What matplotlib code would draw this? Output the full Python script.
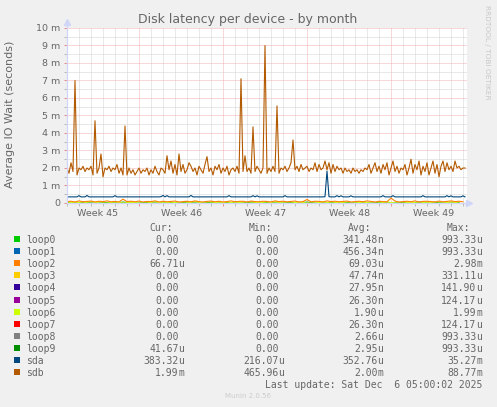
import matplotlib

matplotlib.use("Agg")
import matplotlib.pyplot as plt
import matplotlib.transforms as mtransforms
import numpy as np
from matplotlib.patches import Rectangle
from matplotlib.ticker import FixedLocator, MultipleLocator

# time axis: days since graph start (400 px, 12 px per day)
DAYS_SHOWN = 400 / 12
WEEK_LINES = [6, 13, 20, 27]
WEEK_LABEL_POS = [2.58, 9.58, 16.58, 23.58, 30.58]
WEEK_LABELS = ["Week 45", "Week 46", "Week 47", "Week 48", "Week 49"]
Y_TICKS = [0, 1, 2, 3, 4, 5, 6, 7, 8, 9, 10]
Y_TICK_LABELS = ["0", "1 m", "2 m", "3 m", "4 m", "5 m", "6 m", "7 m", "8 m", "9 m", "10 m"]

# series values in milliseconds, sampled every 4 hours
sdb = [
    2.0, 1.7, 2.3, 1.8, 7.0, 1.6, 2.0, 1.9, 2.1, 1.8,
    2.0, 1.9, 2.1, 1.6, 4.7, 1.7, 2.0, 2.8, 1.5, 2.0,
    1.9, 2.1, 1.8, 2.0, 1.9, 2.2, 1.7, 2.0, 1.6, 4.4,
    1.6, 2.0, 1.7, 1.9, 1.6, 1.8, 2.0, 1.7, 1.9, 1.8,
    2.0, 1.6, 1.9, 1.7, 2.1, 1.8, 1.6, 2.0, 1.9, 1.7,
    2.7, 1.9, 2.4, 1.7, 2.2, 1.6, 2.8, 1.8, 2.2, 1.7,
    1.9, 2.3, 2.1, 1.8, 2.0, 1.6, 2.1, 1.9, 1.7, 2.2,
    2.65, 1.8, 2.0, 1.6, 2.1, 1.9, 2.2, 1.7, 2.0, 1.8,
    2.1, 1.6, 1.9, 2.0, 1.8, 2.1, 1.7, 7.1, 1.8, 2.7,
    1.8, 2.0, 1.7, 4.35, 1.8, 2.1, 1.9, 1.7, 2.0, 9.0,
    1.7, 2.0, 1.8, 2.1, 1.8, 5.55, 1.7, 2.0, 1.9, 2.1,
    1.8, 2.0, 2.3, 3.6, 1.9, 2.1, 1.8, 2.2, 1.9, 2.0,
    2.1, 1.8, 2.0, 1.9, 2.3, 1.8, 2.2, 1.9, 2.0, 2.4,
    1.9, 2.3, 1.7, 2.2, 1.8, 2.1, 1.9, 2.0, 1.7, 2.0,
    1.8, 1.9, 1.7, 2.0, 1.8, 1.9, 1.7, 1.9, 1.8, 2.0,
    1.9, 2.2, 1.7, 2.0, 2.3, 1.8, 2.1, 1.7, 2.2, 1.9,
    2.3, 1.6, 2.0, 2.4, 1.8, 2.1, 1.7, 2.0, 1.9, 2.2,
    1.6, 2.0, 2.5, 1.7, 2.2, 1.9, 2.4, 1.6, 2.1, 1.8,
    2.3, 1.6, 2.0, 2.4, 1.7, 2.2, 1.5, 2.1, 2.4, 1.8,
    2.3, 1.9, 2.1, 1.8, 2.4, 2.0, 2.1, 1.9, 2.0, 2.0,
]
sda = [
    0.35, 0.35, 0.35, 0.35, 0.35, 0.35, 0.42, 0.35, 0.35, 0.35, 0.43, 0.35, 0.35, 0.35, 0.35, 0.35, 0.35, 0.35, 0.35, 0.35,
    0.35, 0.35, 0.35, 0.35, 0.42, 0.35, 0.35, 0.35, 0.35, 0.35, 0.35, 0.35, 0.35, 0.35, 0.35, 0.35, 0.35, 0.35, 0.35, 0.35,
    0.35, 0.35, 0.35, 0.35, 0.35, 0.35, 0.35, 0.36, 0.43, 0.35, 0.42, 0.35, 0.35, 0.35, 0.35, 0.35, 0.35, 0.35, 0.35, 0.35,
    0.35, 0.35, 0.43, 0.35, 0.35, 0.35, 0.35, 0.35, 0.35, 0.35, 0.35, 0.35, 0.35, 0.35, 0.35, 0.35, 0.35, 0.35, 0.35, 0.35,
    0.35, 0.42, 0.35, 0.35, 0.35, 0.35, 0.35, 0.35, 0.35, 0.35, 0.35, 0.35, 0.35, 0.42, 0.35, 0.41, 0.35, 0.35, 0.35, 0.35,
    0.35, 0.35, 0.35, 0.35, 0.35, 0.35, 0.35, 0.35, 0.35, 0.42, 0.35, 0.35, 0.35, 0.35, 0.35, 0.35, 0.35, 0.35, 0.35, 0.35,
    0.35, 0.35, 0.35, 0.35, 0.35, 0.35, 0.35, 0.35, 0.35, 0.36, 1.83, 0.36, 0.35, 0.35, 0.35, 0.42, 0.35, 0.41, 0.35, 0.35,
    0.35, 0.35, 0.41, 0.35, 0.35, 0.35, 0.35, 0.35, 0.35, 0.35, 0.35, 0.35, 0.35, 0.35, 0.35, 0.35, 0.35, 0.35, 0.42, 0.35,
    0.35, 0.35, 0.35, 0.42, 0.35, 0.35, 0.35, 0.35, 0.35, 0.35, 0.35, 0.35, 0.35, 0.35, 0.35, 0.35, 0.35, 0.35, 0.42, 0.35,
    0.35, 0.35, 0.35, 0.35, 0.35, 0.35, 0.35, 0.35, 0.35, 0.35, 0.42, 0.35, 0.41, 0.35, 0.35, 0.35, 0.35, 0.35, 0.41, 0.35,
]
# sampled every 8 hours
loop2 = [
    0.08, 0.10, 0.06, 0.12, 0.07, 0.09, 0.11, 0.06, 0.10, 0.08,
    0.12, 0.07, 0.09, 0.06, 0.22, 0.08, 0.10, 0.07, 0.11, 0.06,
    0.09, 0.08, 0.12, 0.06, 0.10, 0.07, 0.09, 0.11, 0.06, 0.08,
    0.10, 0.07, 0.12, 0.08, 0.06, 0.09, 0.11, 0.07, 0.10, 0.06,
    0.08, 0.12, 0.07, 0.09, 0.10, 0.06, 0.11, 0.08, 0.07, 0.10,
    0.09, 0.06, 0.12, 0.08, 0.10, 0.07, 0.09, 0.11, 0.06, 0.08,
    0.20, 0.07, 0.10, 0.09, 0.06, 0.12, 0.08, 0.10, 0.07, 0.09,
    0.11, 0.06, 0.08, 0.10, 0.07, 0.12, 0.09, 0.06, 0.10, 0.08,
    0.07, 0.28, 0.11, 0.06, 0.08, 0.10, 0.07, 0.12, 0.06, 0.09,
    0.10, 0.08, 0.06, 0.11, 0.07, 0.09, 0.12, 0.08, 0.10, 0.07,
]
# sampled every 16 hours
loop6 = [0.0, 0.05, 0.0, 0.08, 0.0, 0.0, 0.06, 0.0, 0.04, 0.0, 0.0, 0.07, 0.0, 0.05, 0.0, 0.0, 0.08, 0.0, 0.0, 0.05,
         0.0, 0.06, 0.0, 0.0, 0.04, 0.0, 0.07, 0.0, 0.0, 0.05, 0.0, 0.0, 0.06, 0.0, 0.04, 0.0, 0.0, 0.05, 0.0, 0.0,
         0.06, 0.0, 0.0, 0.04, 0.0, 0.05, 0.0, 0.0, 0.06, 0.0]
loop9 = [0.02, 0.0, 0.04, 0.0, 0.0, 0.03, 0.0, 0.05, 0.0, 0.0, 0.04, 0.0, 0.0, 0.03, 0.0, 0.05, 0.0, 0.0, 0.04, 0.0,
         0.03, 0.0, 0.0, 0.05, 0.0, 0.04, 0.0, 0.0, 0.03, 0.0, 0.05, 0.0, 0.0, 0.04, 0.0, 0.03, 0.0, 0.05, 0.0, 0.04,
         0.0, 0.0, 0.03, 0.0, 0.05, 0.0, 0.04, 0.0, 0.0, 0.03]

# legend table
names = ["loop0", "loop1", "loop2", "loop3", "loop4", "loop5", "loop6", "loop7", "loop8", "loop9", "sda", "sdb"]
colors = ["#00CC00", "#0066B3", "#FF8000", "#FFCC00", "#330099", "#990099",
          "#CCFF00", "#FF0000", "#808080", "#008F00", "#00487D", "#B35A00"]
cur_vals = ["0.00", "0.00", "66.71u", "0.00", "0.00", "0.00", "0.00", "0.00", "0.00", "41.67u", "383.32u", "1.99m"]
min_vals = ["0.00", "0.00", "0.00", "0.00", "0.00", "0.00", "0.00", "0.00", "0.00", "0.00", "216.07u", "465.96u"]
avg_vals = ["341.48n", "456.34n", "69.03u", "47.74n", "27.95n", "26.30n", "1.90u", "26.30n", "2.66u", "2.95u",
            "352.76u", "2.00m"]
max_vals = ["993.33u", "993.33u", "2.98m", "331.11u", "141.90u", "124.17u", "1.99m", "124.17u", "993.33u",
            "993.33u", "35.27m", "88.77m"]

FONT_COLOR = "#666666"
AXIS_COLOR = "#CFD6F8"
GRID_COLOR = "#D2D2D2"
MGRID_COLOR = "#F0B0B0"

fig = plt.figure(figsize=(4.97, 4.07), dpi=100, facecolor="#F0F0F0")

# full-figure overlay in pixel coordinates for the text parts
bg = fig.add_axes([0, 0, 1, 1], zorder=0)
bg.set_xlim(0, 497)
bg.set_ylim(407, 0)
bg.axis("off")

ax = fig.add_axes([67 / 497, (407 - 203) / 407, 400 / 497, 175 / 407], zorder=1)
ax.set_facecolor("white")
ax.set_xlim(0, DAYS_SHOWN)
ax.set_ylim(0, 10)
for side in ["top", "right", "left", "bottom"]:
    ax.spines[side].set_visible(False)

ax.xaxis.set_major_locator(FixedLocator(WEEK_LINES))
ax.xaxis.set_minor_locator(MultipleLocator(1))
ax.yaxis.set_major_locator(FixedLocator(Y_TICKS))
ax.yaxis.set_minor_locator(MultipleLocator(0.5))
ax.set_xticklabels([])
ax.set_yticklabels(Y_TICK_LABELS, fontsize=6.8, color=FONT_COLOR)
ax.tick_params(axis="both", which="major", length=2.5, width=0.72, color="#E89090", pad=2.5)
ax.tick_params(axis="both", which="minor", length=2, width=0.72, color="#BBBBBB")
ax.grid(which="minor", color=GRID_COLOR, linestyle=(0, (1, 1)), linewidth=0.72)
ax.grid(which="major", color=MGRID_COLOR, linestyle=(0, (1, 1)), linewidth=0.72)
ax.set_axisbelow(True)

label_tf = mtransforms.blended_transform_factory(ax.transData, ax.transAxes)
for pos, label in zip(WEEK_LABEL_POS, WEEK_LABELS):
    ax.text(pos, -13.5 / 175, label, transform=label_tf, ha="center", va="baseline",
            fontsize=6.8, color=FONT_COLOR)

# data lines, drawn in rrdtool order so sdb ends on top
ax.plot(np.arange(len(loop9)) * 2 / 3, loop9, color=colors[9], lw=0.8)
ax.plot(np.arange(len(loop6)) * 2 / 3, loop6, color=colors[6], lw=0.8)
ax.plot(np.arange(len(loop2)) / 3, loop2, color=colors[2], lw=0.8)
ax.plot(np.arange(len(sda)) / 6, sda, color=colors[10], lw=0.8)
ax.plot(np.arange(len(sdb)) / 6, sdb, color=colors[11], lw=0.8)

# axis lines with rrdtool style arrows
ax.plot([0, 0], [0, 10.3], color=AXIS_COLOR, lw=0.9, clip_on=False, zorder=5)
ax.plot([0, DAYS_SHOWN + 0.1], [0, 0], color=AXIS_COLOR, lw=0.9, clip_on=False, zorder=5)
ax.plot([0], [10.35], marker="^", ms=4, color=AXIS_COLOR, clip_on=False, zorder=5)
ax.plot([DAYS_SHOWN + 0.2], [0], marker=">", ms=4, color=AXIS_COLOR, clip_on=False, zorder=5)

# title and axis label
bg.text(247.5, 20, "Disk latency per device - by month", ha="center", va="center",
        fontsize=9, color=FONT_COLOR)
bg.text(10, 114, "Average IO Wait (seconds)", ha="center", va="center", rotation=90,
        fontsize=8, color=FONT_COLOR)
bg.text(487, 5, "RRDTOOL / TOBI OETIKER", ha="center", va="top", rotation=270,
        fontsize=5.3, color="#C8C8C8")

# legend table
mono = "DejaVu Sans Mono"
header_base = 231
headers = ["Cur:", "Min:", "Avg:", "Max:"]
header_right = [172.5, 272.5, 371.5, 470.5]
num_right = [178.5, 278.5, 377.5, 476.5]
for h, hx in zip(headers, header_right):
    bg.text(hx, header_base, h, ha="right", va="baseline", family=mono, fontsize=7, color=FONT_COLOR)

for i, name in enumerate(names):
    base = 243.3 + 12.04 * i
    bg.add_patch(Rectangle((14, base - 7), 6, 6, color=colors[i], lw=0))
    bg.text(26.5, base, name, ha="left", va="baseline", family=mono, fontsize=7, color=FONT_COLOR)
    for col, vals in enumerate([cur_vals, min_vals, avg_vals, max_vals]):
        v = vals[i]
        num, unit = (v[:-1], v[-1]) if v[-1].isalpha() else (v, "")
        bg.text(num_right[col], base, num, ha="right", va="baseline", family=mono,
                fontsize=7, color=FONT_COLOR)
        if unit:
            bg.text(num_right[col], base, unit, ha="left", va="baseline", family=mono,
                    fontsize=7, color=FONT_COLOR)

bg.text(482.5, 387.5, "Last update: Sat Dec  6 05:00:02 2025", ha="right", va="baseline",
        family=mono, fontsize=7, color=FONT_COLOR)
bg.text(248, 398.5, "Munin 2.0.56", ha="center", va="baseline", fontsize=5, color="#CCCCCC")

fig.savefig("out.png", dpi=100, facecolor=fig.get_facecolor())
